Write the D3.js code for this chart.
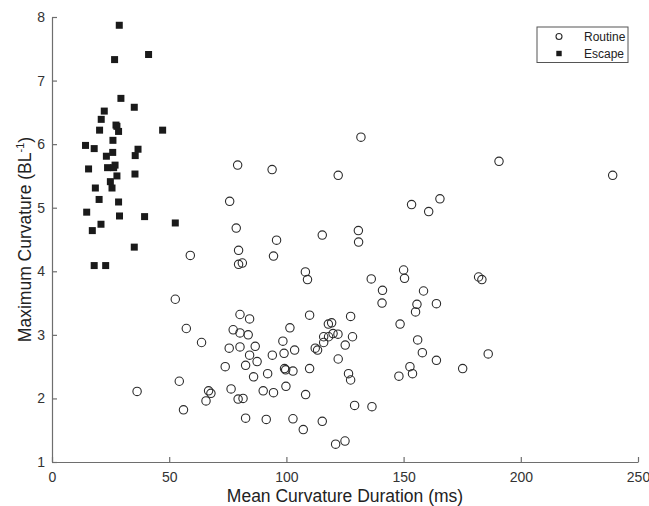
<!DOCTYPE html>
<html>
<head>
<meta charset="utf-8">
<script src="https://cdn.jsdelivr.net/npm/d3@7"></script>
<style>
  body { margin: 0; background: #fff; }
  svg text { font-family: "Liberation Sans", Arial, sans-serif; }
</style>
</head>
<body>
<div id="chart"></div>
<script>
// data: [mean curvature duration (ms), max curvature (BL^-1)]
var routine = [
  [78.6,4.68],[79.6,4.33],[59.0,4.25],[79.6,4.11],[81.2,4.13],[52.6,3.56],[80.2,3.32],
  [84.3,3.25],[57.3,3.10],[77.3,3.08],[80.2,3.03],[83.7,3.00],[63.8,2.88],[75.6,2.79],
  [80.2,2.81],[84.3,2.68],[73.9,2.50],[82.6,2.52],[54.3,2.27],[36.3,2.11],[66.8,2.12],
  [67.8,2.08],[76.4,2.15],[65.7,1.96],[79.4,1.99],[81.5,2.00],[56.1,1.82],[82.6,1.69],
  [131.8,6.11],[79.2,5.67],[93.9,5.60],[122.1,5.51],[75.8,5.10],[95.8,4.49],[115.3,4.57],
  [130.7,4.64],[130.8,4.46],[94.5,4.24],[108.1,3.99],[109.0,3.87],[136.2,3.88],[141.0,3.70],
  [140.8,3.50],[109.9,3.31],[127.4,3.29],[101.5,3.11],[117.9,3.17],[119.3,3.19],[115.9,2.97],
  [118.0,2.97],[119.9,3.02],[122.0,3.01],[128.2,2.97],[86.7,2.82],[98.5,2.90],[99.0,2.71],
  [103.5,2.76],[94.0,2.68],[87.5,2.58],[112.3,2.79],[113.3,2.76],[115.9,2.88],[125.1,2.84],
  [122.1,2.62],[86.0,2.34],[92.0,2.39],[99.2,2.47],[99.7,2.45],[102.8,2.43],[109.9,2.47],
  [126.5,2.39],[127.4,2.29],[90.1,2.12],[94.5,2.09],[99.8,2.19],[108.2,2.06],[129.1,1.89],
  [136.5,1.87],[91.4,1.67],[102.8,1.68],[107.2,1.51],[115.3,1.64],[121.0,1.28],[125.0,1.33],
  [190.7,5.73],[239.2,5.51],[153.4,5.05],[165.5,5.14],[160.7,4.94],[150.0,4.02],[150.4,3.89],
  [158.5,3.69],[182.0,3.91],[183.4,3.87],[155.7,3.48],[155.1,3.36],[164.0,3.49],[148.5,3.17],
  [156.0,2.92],[158.0,2.72],[164.0,2.60],[186.1,2.70],[152.7,2.50],[153.8,2.39],[148.0,2.35],
  [175.2,2.47]
];

var escape = [
  [28.7,7.87],[26.7,7.33],[41.2,7.41],[29.4,6.72],[35.1,6.58],[22.3,6.52],[21.0,6.39],
  [20.3,6.22],[27.3,6.30],[27.7,6.28],[28.4,6.20],[47.2,6.22],[14.3,5.98],[18.0,5.93],
  [26.0,6.06],[36.7,5.92],[23.2,5.81],[25.9,5.87],[35.5,5.82],[15.6,5.61],[23.7,5.63],
  [26.9,5.67],[26.3,5.63],[27.7,5.50],[35.4,5.53],[24.9,5.41],[18.5,5.31],[25.6,5.31],
  [20.1,5.13],[28.4,5.09],[14.8,4.93],[28.8,4.87],[39.5,4.86],[52.6,4.76],[20.9,4.74],
  [17.2,4.64],[35.1,4.38],[18.0,4.09],[22.9,4.09]
];

var xTicks = [0, 50, 100, 150, 200, 250];
var yTicks = [1, 2, 3, 4, 5, 6, 7, 8];
var seriesNames = ["Routine", "Escape"];

var W = 649, H = 506;
var margin = {top: 17, right: 11, bottom: 44, left: 52}
    , width = W - margin.left - margin.right
    , height = H - margin.top - margin.bottom;

var svg = d3.select("#chart").append("svg")
    .attr("width", W)
    .attr("height", H)
    .append("g")
    .attr("transform", "translate(" + margin.left + "," + margin.top + ")");

var xScale = d3.scaleLinear().domain([0, 250]).range([0, width]);
var yScale = d3.scaleLinear().domain([1, 8]).range([height, 0]);

var axisColor = "#6e6e6e";

// x axis, ticks pointing inward
var xAxis = svg.append("g")
    .attr("transform", "translate(0," + height + ")")
    .call(d3.axisBottom(xScale).tickValues(xTicks).tickFormat(d3.format("d"))
        .tickSizeInner(-5).tickSizeOuter(0).tickPadding(10));

// y axis
var yAxis = svg.append("g")
    .call(d3.axisLeft(yScale).tickValues(yTicks).tickFormat(d3.format("d"))
        .tickSizeInner(-5).tickSizeOuter(0).tickPadding(7));

svg.selectAll(".domain").attr("stroke", axisColor).attr("stroke-width", 1.2);
svg.selectAll(".tick line").attr("stroke", axisColor).attr("stroke-width", 1.2);
svg.selectAll(".tick text").attr("fill", "#333").attr("font-size", 14);

// routine: open circles
svg.append("g").selectAll("circle")
    .data(routine)
    .enter().append("circle")
    .attr("cx", function(d) { return xScale(d[0]); })
    .attr("cy", function(d) { return yScale(d[1]); })
    .attr("r", 4.2)
    .attr("fill", "none")
    .attr("stroke", "#2b2b2b")
    .attr("stroke-width", 1.1);

// escape: filled squares
var sq = 7;
svg.append("g").selectAll("rect")
    .data(escape)
    .enter().append("rect")
    .attr("x", function(d) { return xScale(d[0]) - sq / 2; })
    .attr("y", function(d) { return yScale(d[1]) - sq / 2; })
    .attr("width", sq)
    .attr("height", sq)
    .attr("fill", "#1a1a1a");

// axis titles
svg.append("text")
    .attr("text-anchor", "middle")
    .attr("x", width / 2)
    .attr("y", height + 40)
    .attr("font-size", 17.5)
    .attr("fill", "#222")
    .text("Mean Curvature Duration (ms)");

var yLab = svg.append("text")
    .attr("text-anchor", "middle")
    .attr("transform", "translate(" + (31 - margin.left) + "," + (height / 2) + ") rotate(-90)")
    .attr("font-size", 17.5)
    .attr("fill", "#222");
yLab.append("tspan").text("Maximum Curvature (BL");
yLab.append("tspan").attr("font-size", 11).attr("dy", -7).text("-1");
yLab.append("tspan").attr("dy", 7).text(")");

// legend
var lg = svg.append("g").attr("transform", "translate(" + (537 - margin.left) + "," + (27 - margin.top) + ")");
lg.append("rect")
    .attr("width", 91)
    .attr("height", 35.5)
    .attr("fill", "#fff")
    .attr("stroke", "#555")
    .attr("stroke-width", 1);
lg.selectAll("text")
    .data(seriesNames)
    .enter().append("text")
    .attr("x", 47)
    .attr("y", function(d, i) { return 9.5 + i * 17; })
    .attr("dy", "0.35em")
    .attr("font-size", 12)
    .attr("fill", "#222")
    .text(function(d) { return d; });
lg.append("circle")
    .attr("cx", 22).attr("cy", 9.5).attr("r", 3)
    .attr("fill", "none").attr("stroke", "#2b2b2b").attr("stroke-width", 1.1);
lg.append("rect")
    .attr("x", 19.3).attr("y", 23.8).attr("width", 5.4).attr("height", 5.4)
    .attr("fill", "#1a1a1a");
</script>
</body>
</html>
